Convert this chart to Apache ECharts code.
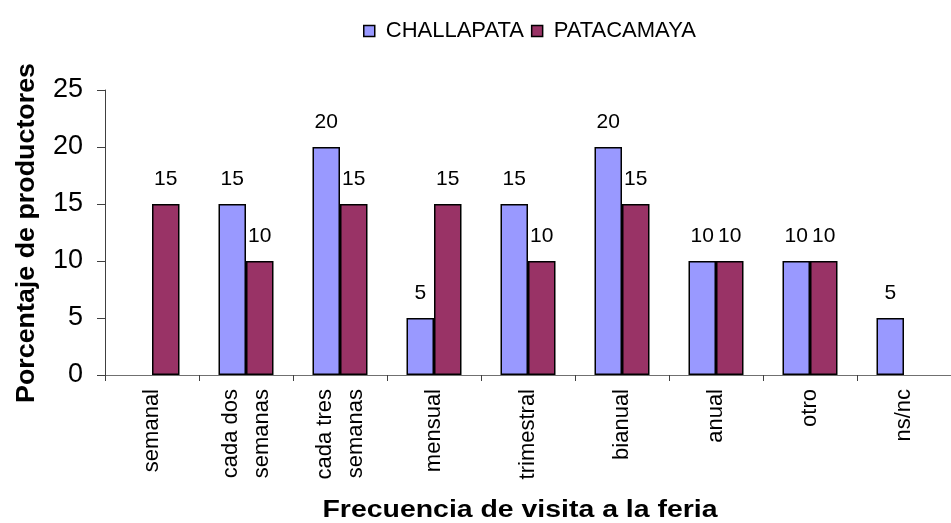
<!DOCTYPE html>
<html>
<head>
<meta charset="utf-8">
<script src="https://cdn.jsdelivr.net/npm/echarts@6/dist/echarts.min.js"></script>
<style>
html,body{margin:0;padding:0;background:#fff;}
#chart{width:951px;height:523px;}
</style>
</head>
<body>
<div id="chart"></div>
<script>
const categories = ['semanal', 'cada dos\nsemanas', 'cada tres\nsemanas', 'mensual', 'trimestral', 'bianual', 'anual', 'otro', 'ns/nc'];
const challapata = [0, 15, 20, 5, 15, 20, 10, 10, 5];
const patacamaya = [15, 10, 15, 15, 10, 15, 10, 10, 0];
const seriesNames = ['CHALLAPATA', 'PATACAMAYA'];
const yTicks = [0, 5, 10, 15, 20, 25];
const xTitle = 'Frecuencia de visita a la feria';
const yTitle = 'Porcentaje de productores';

const FONT = '"Liberation Sans", Arial, sans-serif';

function measure(text, font) {
  const c = document.createElement('canvas').getContext('2d');
  c.font = font;
  return c.measureText(text).width;
}
const titleFont = 'bold 23px "Liberation Sans", Arial, sans-serif';
const xScale = 395 / measure(xTitle, titleFont);
const yScale = 340 / measure(yTitle, titleFont);

const toBar = v => (v === 0 ? null : v);

const chart = echarts.init(document.getElementById('chart'), null, { renderer: 'canvas' });
const labelCfg = {
  show: true,
  position: 'top',
  distance: 14,
  color: '#000',
  fontFamily: FONT,
  fontSize: 21,
  formatter: p => (p.value ? String(p.value) : '')
};
chart.setOption({
  animation: false,
  backgroundColor: '#fff',
  textStyle: { fontFamily: FONT },
  legend: {
    data: seriesNames,
    left: 358,
    top: 15,
    itemWidth: 11,
    itemHeight: 11,
    itemGap: 7,
    icon: 'rect',
    itemStyle: { borderColor: '#000', borderWidth: 1.5 },
    textStyle: { fontFamily: FONT, fontSize: 22, color: '#000', padding: [0, 0, 0, 6] }
  },
  grid: { left: 105, right: -9, top: 90, bottom: 148, containLabel: false },
  xAxis: {
    type: 'category',
    data: categories,
    axisLine: { lineStyle: { color: '#707070', width: 1 } },
    axisTick: { show: true, length: 6, lineStyle: { color: '#404040' } },
    axisLabel: {
      rotate: 90,
      interval: 0,
      margin: 14,
      color: '#000',
      fontFamily: FONT,
      fontSize: 22,
      lineHeight: 31
    }
  },
  yAxis: {
    type: 'value',
    min: 0,
    max: 25,
    interval: 5,
    splitLine: { show: false },
    axisLine: { show: true, lineStyle: { color: '#404040', width: 1 } },
    axisTick: { show: true, length: 8, lineStyle: { color: '#404040' } },
    axisLabel: {
      margin: 22,
      color: '#000',
      fontFamily: FONT,
      fontSize: 27,
      formatter: v => (yTicks.includes(v) ? String(v) : '')
    }
  },
  series: [
    {
      name: seriesNames[0],
      type: 'bar',
      data: challapata.map(toBar),
      barWidth: 27.5,
      barGap: '0%',
      itemStyle: { color: '#9999FF', borderColor: '#000', borderWidth: 1.5 },
      label: labelCfg
    },
    {
      name: seriesNames[1],
      type: 'bar',
      data: patacamaya.map(toBar),
      barWidth: 27.5,
      barGap: '0%',
      itemStyle: { color: '#993366', borderColor: '#000', borderWidth: 1.5 },
      label: labelCfg
    }
  ],
  graphic: [
    {
      type: 'text',
      x: 520,
      y: 510,
      scaleX: xScale,
      scaleY: 1.05,
      style: {
        text: xTitle,
        font: titleFont,
        fill: '#000',
        textAlign: 'center',
        textVerticalAlign: 'middle'
      }
    },
    {
      type: 'text',
      x: 27,
      y: 233,
      rotation: Math.PI / 2,
      scaleX: yScale,
      scaleY: 1.15,
      style: {
        text: yTitle,
        font: titleFont,
        fill: '#000',
        textAlign: 'center',
        textVerticalAlign: 'middle'
      }
    }
  ]
});
</script>
</body>
</html>
